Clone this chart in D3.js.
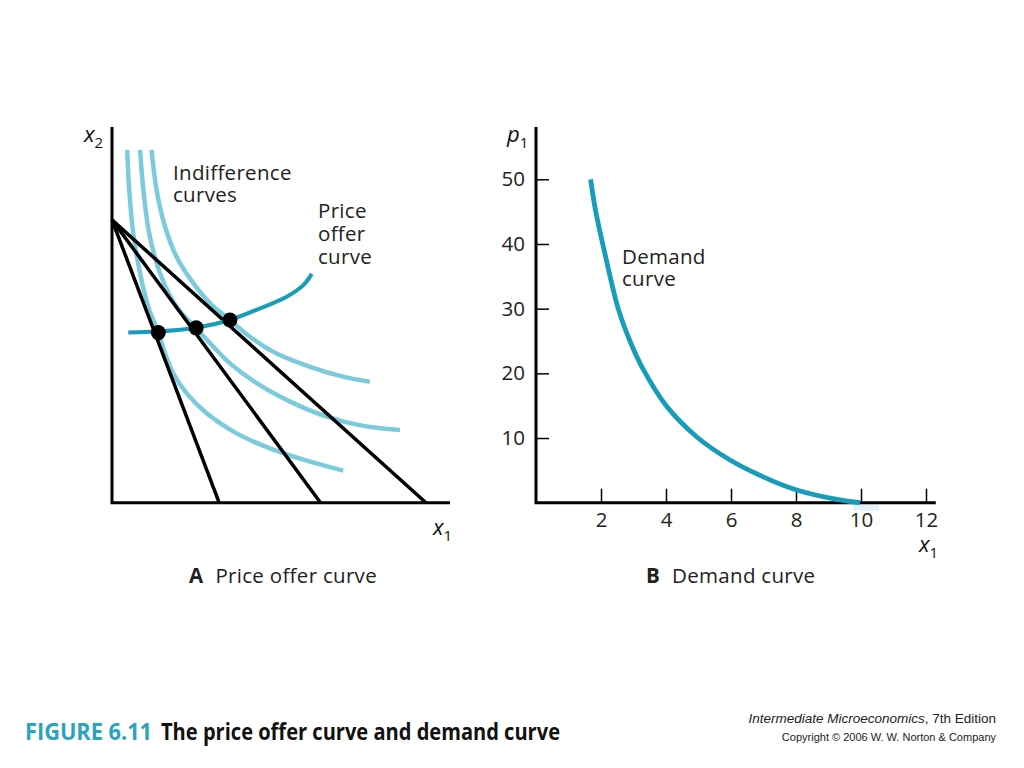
<!DOCTYPE html>
<html>
<head>
<meta charset="utf-8">
<script src="https://cdn.jsdelivr.net/npm/d3@7"></script>
<style>
  body { margin: 0; background: #fff; }
  svg { display: block; font-family: "Open Sans", "Noto Sans", sans-serif; }
</style>
</head>
<body>
<svg width="1024" height="768"></svg>
<script>
// ---- data ----
// panel A (arbitrary goods units)
var budgetIntercept = 8.28;
var budgetX1Intercepts = [3.17, 6.17, 9.29];

var icLow = [[0.45, 10.33], [0.51, 9.15], [0.63, 7.89], [0.83, 6.72], [1.07, 5.74], [1.37, 4.98],
  [1.57, 4.37], [1.81, 3.79], [2.21, 3.2], [2.8, 2.62], [3.69, 2.03], [4.67, 1.59], [5.86, 1.2], [6.84, 0.94]];
var icMid = [[0.83, 10.33], [0.93, 9.15], [1.1, 7.89], [1.42, 6.72], [1.91, 5.74], [2.49, 5.11],
  [2.9, 4.67], [3.49, 4.08], [4.28, 3.5], [5.27, 2.96], [6.35, 2.52], [7.43, 2.25], [8.52, 2.13]];
var icHigh = [[1.17, 10.33], [1.32, 9.15], [1.57, 8.08], [1.91, 7.2], [2.41, 6.42], [2.9, 5.84],
  [3.49, 5.35], [4.08, 4.86], [4.87, 4.37], [5.86, 3.98], [6.84, 3.69], [7.63, 3.54]];

var offerCurve = [[0.48, 4.98], [1.37, 5.01], [2.49, 5.12], [3.49, 5.35], [4.38, 5.69],
  [5.17, 6.03], [5.66, 6.37], [5.91, 6.7]];
var choices = [[1.37, 4.98], [2.49, 5.12], [3.49, 5.35]];

// panel B
var demandX = [1.68, 1.84, 2.13, 2.53, 2.89, 3.3, 4.02, 4.94, 5.97, 6.99, 8.02, 9.35, 9.97];
var demandP = [50, 45, 38.3, 30, 25, 20.6, 14.9, 10.2, 6.6, 4, 1.96, 0.42, 0];
var xTicks = [2, 4, 6, 8, 10, 12];
var pTicks = [10, 20, 30, 40, 50];

var svg = d3.select("svg");
var teal = "#179cba", light = "#7ccbdc";
var fs = 20.5;

// ---- panel A ----
var xa = d3.scaleLinear().domain([0, 10]).range([112, 450]);
var ya = d3.scaleLinear().domain([0, 11]).range([502.7, 127]);

var smooth = d3.line()
  .x(d => xa(d[0])).y(d => ya(d[1]))
  .curve(d3.curveCatmullRom.alpha(0.5));

svg.append("g").selectAll("path")
  .data([icLow, icMid, icHigh])
  .enter().append("path")
  .attr("d", smooth)
  .attr("fill", "none")
  .attr("stroke", light)
  .attr("stroke-width", 4.5);

svg.append("g").selectAll("line")
  .data(budgetX1Intercepts)
  .enter().append("line")
  .attr("x1", xa(0)).attr("y1", ya(budgetIntercept))
  .attr("x2", d => xa(d)).attr("y2", ya(0))
  .attr("stroke", "#000")
  .attr("stroke-width", 3.5);

svg.append("path")
  .attr("d", smooth(offerCurve))
  .attr("fill", "none")
  .attr("stroke", teal)
  .attr("stroke-width", 4);

svg.append("g").selectAll("circle")
  .data(choices)
  .enter().append("circle")
  .attr("cx", d => xa(d[0])).attr("cy", d => ya(d[1]))
  .attr("r", 7.5)
  .attr("fill", "#000");

// axes A
svg.append("path")
  .attr("d", `M${xa(0)},${ya(11)}V${ya(0)}H${xa(10)}`)
  .attr("fill", "none").attr("stroke", "#000").attr("stroke-width", 3);

function mathLabel(x, y, sym, sub) {
  var t = svg.append("text").attr("x", x).attr("y", y).attr("fill", "#111");
  t.append("tspan").attr("font-style", "italic").attr("font-size", 22).text(sym);
  t.append("tspan").attr("font-size", 15).attr("dy", 6).text(sub);
}
mathLabel(84, 142, "x", "2");
mathLabel(433, 535, "x", "1");

function block(x, y, gap, lines) {
  var t = svg.append("text").attr("x", x).attr("y", y)
    .attr("font-size", fs).attr("letter-spacing", 0.3).attr("fill", "#222");
  lines.forEach((s, i) => t.append("tspan").attr("x", x).attr("dy", i ? gap : 0).text(s));
}
block(173, 179.5, 22.4, ["Indifference", "curves"]);
block(318, 218, 23, ["Price", "offer", "curve"]);

// ---- panel B ----
var xb = d3.scaleLinear().domain([0, 12]).range([536, 926]);
var yb = d3.scaleLinear().domain([0, 50]).range([502.7, 179.3]);

svg.append("rect")
  .attr("x", xb(9.75)).attr("y", yb(0) + 1)
  .attr("width", xb(10.55) - xb(9.75)).attr("height", 7)
  .attr("fill", "#e2f2f8");

var gx = svg.append("g").attr("transform", `translate(0,${yb(0)})`)
  .call(d3.axisBottom(xb).tickValues(xTicks).tickSize(-14).tickSizeOuter(0).tickPadding(10));
var gy = svg.append("g").attr("transform", `translate(${xb(0)},0)`)
  .call(d3.axisLeft(yb).tickValues(pTicks).tickSize(-13).tickSizeOuter(0).tickPadding(11));
[gx, gy].forEach(g => {
  g.select(".domain").remove();
  g.selectAll("line").attr("stroke", "#000").attr("stroke-width", 1.5);
  g.selectAll("text").attr("font-family", "\"Open Sans\", sans-serif")
    .attr("font-size", fs).attr("fill", "#222");
});

svg.append("path")
  .attr("d", `M${xb(0)},${yb(58.1)}V${yb(0)}H${xb(12.3)}`)
  .attr("fill", "none").attr("stroke", "#000").attr("stroke-width", 3);

var demand = d3.line()
  .x((d, i) => xb(demandX[i])).y(d => yb(d))
  .curve(d3.curveCatmullRom.alpha(0.5));
svg.append("path")
  .attr("d", demand(demandP))
  .attr("fill", "none")
  .attr("stroke", teal)
  .attr("stroke-width", 4.8);

mathLabel(507, 142, "p", "1");
mathLabel(919, 552, "x", "1");
block(622, 264, 22.4, ["Demand", "curve"]);

// ---- panel captions ----
function caption(x, y, letter, s) {
  var t = svg.append("text").attr("x", x).attr("y", y).attr("font-size", fs)
    .attr("letter-spacing", 0.3).attr("fill", "#222");
  t.append("tspan").attr("font-weight", "bold").text(letter);
  t.append("tspan").attr("dx", 12).text(s);
}
caption(189, 583, "A", "Price offer curve");
caption(646, 583, "B", "Demand curve");

// ---- footer ----
svg.append("text").attr("x", 25).attr("y", 740)
  .attr("font-size", 24).attr("font-weight", "bold").attr("fill", "#2aa3bf")
  .attr("textLength", 127).attr("lengthAdjust", "spacingAndGlyphs")
  .text("FIGURE 6.11");
svg.append("text").attr("x", 161).attr("y", 740)
  .attr("font-size", 24).attr("font-weight", "bold").attr("fill", "#111")
  .attr("textLength", 399).attr("lengthAdjust", "spacingAndGlyphs")
  .text("The price offer curve and demand curve");

var ed = svg.append("text").attr("x", 996).attr("y", 723).attr("text-anchor", "end")
  .attr("font-family", "\"Liberation Sans\", Arial, sans-serif")
  .attr("font-size", 13.5).attr("fill", "#222");
ed.append("tspan").attr("font-style", "italic").text("Intermediate Microeconomics");
ed.append("tspan").text(", 7th Edition");
svg.append("text").attr("x", 996).attr("y", 741).attr("text-anchor", "end")
  .attr("font-family", "\"Liberation Sans\", Arial, sans-serif")
  .attr("font-size", 11).attr("fill", "#222")
  .text("Copyright \u00a9 2006 W. W. Norton & Company");
</script>
</body>
</html>
